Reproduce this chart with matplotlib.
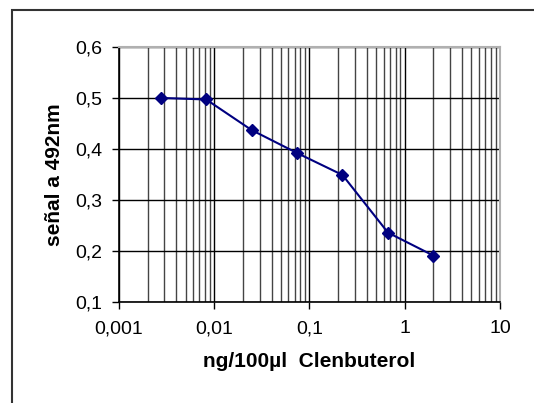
import matplotlib
matplotlib.use('Agg')
import matplotlib.pyplot as plt
from matplotlib.patches import Rectangle
from matplotlib.ticker import FixedLocator, LogLocator, NullFormatter

'''Colors'''
NAVY = '#000080'
GRID_GRAY = '#444444'

# ng/100ul clenbuterol, 3-fold dilutions
concentration = [0.00274, 0.00823, 0.0247, 0.0741, 0.222, 0.667, 2.0]
signal = [0.500, 0.497, 0.437, 0.392, 0.349, 0.236, 0.191]

x_ticks = [0.001, 0.01, 0.1, 1, 10]
x_tick_labels = ['0,001', '0,01', '0,1', '1', '10']
y_ticks = [0.1, 0.2, 0.3, 0.4, 0.5, 0.6]
y_tick_labels = ['0,1', '0,2', '0,3', '0,4', '0,5', '0,6']

plt.rcParams['font.family'] = ['Liberation Sans', 'DejaVu Sans']

fig = plt.figure(figsize=(5.34, 4.03), dpi=100)
ax = fig.add_axes([0.2228, 0.2506, 0.7135, 0.6330])

ax.set_xscale('log')
ax.set_xlim(0.001, 10)
ax.set_ylim(0.1, 0.6)

# gridlines: minor dark gray, major black
ax.xaxis.set_minor_locator(LogLocator(base=10, subs=range(2, 10)))
ax.xaxis.set_minor_formatter(NullFormatter())
ax.grid(which='minor', axis='x', color=GRID_GRAY, linewidth=1.0)
ax.grid(which='major', axis='both', color='black', linewidth=1.0)
ax.set_axisbelow(True)

ax.plot(concentration, signal, color=NAVY, linewidth=1.5,
        marker='D', markersize=6, markerfacecolor=NAVY, markeredgecolor=NAVY)

ax.xaxis.set_major_locator(FixedLocator(x_ticks))
ax.set_xticklabels(x_tick_labels)
ax.set_yticks(y_ticks)
ax.set_yticklabels(y_tick_labels)
ax.tick_params(which='major', direction='out', length=5, width=1.0,
               labelsize=14, colors='black')
ax.tick_params(axis='x', pad=8)
ax.tick_params(axis='y', pad=7)
ax.tick_params(which='minor', length=0)

for side in ['top', 'right']:
    ax.spines[side].set_color('#b0b0b0')
    ax.spines[side].set_linewidth(1.5)
for side in ['left', 'bottom']:
    ax.spines[side].set_color('black')
    ax.spines[side].set_linewidth(1.2)

ax.set_ylabel('señal a 492nm', fontsize=15, fontweight='bold', labelpad=8)
ax.set_xlabel('ng/100µl  Clenbuterol', fontsize=15, fontweight='bold', labelpad=11)

# outer chart border (right and bottom edges fall outside the picture)
fig.patches.append(Rectangle((0.0225, -0.05), 1.0, 1.025, transform=fig.transFigure,
                             fill=False, edgecolor='#333333', linewidth=1.5))

fig.savefig('out.png', dpi=100)
